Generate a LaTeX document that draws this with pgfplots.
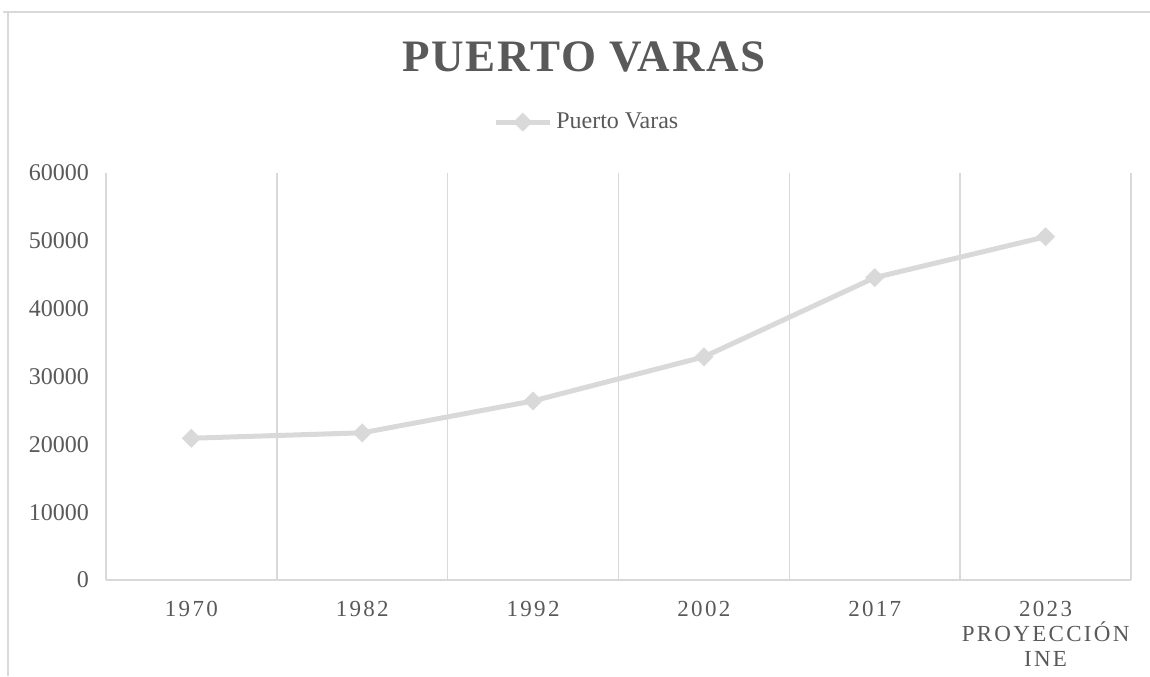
\documentclass[border=0pt]{standalone}
\usepackage{fontspec}
\setmainfont{Liberation Serif}
\newfontfamily\spaced[LetterSpace=10]{Liberation Serif}
\newfontfamily\titlefont[LetterSpace=4]{Liberation Serif}
\usepackage{pgfplots}
\pgfplotsset{compat=1.18}
\definecolor{gridc}{HTML}{D9D9D9}
\definecolor{txt}{HTML}{595959}
\begin{document}
\begin{tikzpicture}[x=1pt,y=1pt]
\path[use as bounding box] (0,0) rectangle (575,338);
\draw[gridc, line width=0.75pt] (1.5,332) -- (575,332);
\draw[gridc, line width=0.75pt] (4,332) -- (4,0);
\node[anchor=base, text=txt, font=\titlefont\fontsize{22.5}{27}\selectfont\bfseries] at (292,302.3) {PUERTO VARAS};
\begin{axis}[
  at={(53pt,48pt)}, anchor=south west,
  width=512.5pt, height=203.5pt, scale only axis,
  xmin=-0.5, xmax=5.5, ymin=0, ymax=60000,
  xtick={0,...,5},
  xticklabels={1970,1982,1992,2002,2017,{2023\\PROYECCIÓN\\INE}},
  xticklabel style={align=center, font=\spaced\fontsize{11.5}{12.5}\selectfont, text=txt, anchor=north, yshift=-7pt},
  ytick={0,10000,...,60000},
  yticklabel style={font=\fontsize{12}{13}\selectfont, text=txt, xshift=-5pt},
  scaled y ticks=false,
  /pgf/number format/.cd, set thousands separator={}, assume math mode=true, /pgfplots/.cd,
  major tick length=0pt, minor tick length=0pt,
  minor xtick={-0.5,0.5,...,5.5},
  xminorgrids, minor grid style={gridc, line width=0.75pt},
  axis line style={draw=none},
  clip=false,
  legend style={at={(0.47,1.125)}, anchor=center, draw=none, fill=none,
    font=\fontsize{12}{13}\selectfont, text=txt},
  legend image code/.code={\draw[#1] (0pt,0pt) -- (27pt,0pt); \path[#1] plot[mark=square*, mark options={rotate=45, fill=gridc, draw=gridc, line width=0.3pt}] coordinates {(13.5pt,0pt)};},
]
\draw[gridc, line width=0.75pt] (rel axis cs:0,0) -- (rel axis cs:1,0);
\addplot[gridc, line width=2.5pt, mark=square*, mark size=3.2pt, mark options={rotate=45, solid, fill=gridc, draw=gridc, line width=0.3pt}]
  coordinates {(0,20900) (1,21700) (2,26400) (3,32900) (4,44578) (5,50600)};
\addlegendentry{Puerto Varas}
\end{axis}
\end{tikzpicture}
\end{document}
